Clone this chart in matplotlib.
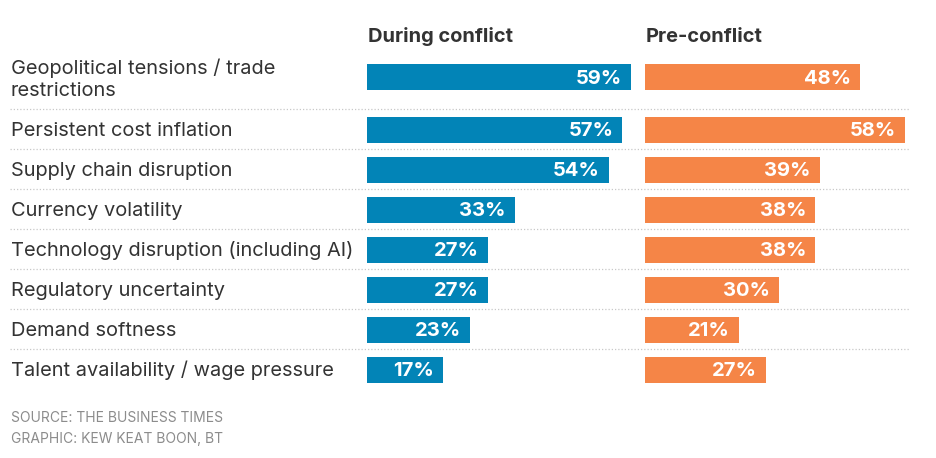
import matplotlib
matplotlib.use("Agg")
import matplotlib.pyplot as plt

# данные графика
categories = [
    "Geopolitical tensions / trade\nrestrictions",
    "Persistent cost inflation",
    "Supply chain disruption",
    "Currency volatility",
    "Technology disruption (including AI)",
    "Regulatory uncertainty",
    "Demand softness",
    "Talent availability / wage pressure",
]
during = [59, 57, 54, 33, 27, 27, 23, 17]
pre = [48, 58, 39, 38, 38, 30, 21, 27]
headers = ["During conflict", "Pre-conflict"]
source_lines = ["SOURCE: THE BUSINESS TIMES", "GRAPHIC: KEW KEAT BOON, BT"]

W, H = 936, 458
FONT = ["Inter", "DejaVu Sans"]
col_blue = "#0284b7"
col_orange = "#f58547"
col_text = "#333333"
px_per_pct = 4.48

# центры строк в пикселях (первая строка выше - две строки подписи)
row_y = [77] + [129.5 + 40 * i for i in range(len(categories) - 1)]

fig = plt.figure(figsize=(W / 100, H / 100), dpi=100)
fig.patch.set_facecolor("white")

ax_bg = fig.add_axes([0, 0, 1, 1])
ax_bg.set_xlim(0, W)
ax_bg.set_ylim(H, 0)
ax_bg.axis("off")

# разделительные пунктирные линии
for i in range(len(categories) - 1):
    ax_bg.plot([10, 909], [109 + 40 * i] * 2, color="#c8c8c8", lw=0.9,
               linestyle=(0, (1, 1.6)), zorder=1)

# подписи категорий
for i, cat in enumerate(categories):
    lines = cat.split("\n")
    if len(lines) > 1:
        base = [row_y[i] - 3, row_y[i] + 19]
    else:
        base = [row_y[i] + 7]
    for ln, yb in zip(lines, base):
        ax_bg.text(11, yb, ln, ha="left", va="baseline", fontsize=14.4,
                   color=col_text, family=FONT)

# подписи источника
ax_bg.text(11, 422, source_lines[0], ha="left", va="baseline", fontsize=10.0,
           color="#8c8c8c", family=FONT)
ax_bg.text(11, 443, source_lines[1], ha="left", va="baseline", fontsize=10.0,
           color="#8c8c8c", family=FONT)

# столбцы
cols = [(367, 909 - 645 + 5, during, col_blue), (645, 909 - 645, pre, col_orange)]
for k, (x0, wpx, vals, col) in enumerate(cols):
    ax = fig.add_axes([x0 / W, 0, wpx / W, 1])
    ax.set_xlim(0, wpx / px_per_pct)
    ax.set_ylim(H, 0)
    ax.axis("off")
    ax.patch.set_alpha(0)
    ax.barh(row_y, vals, height=26, color=col, zorder=2)
    for y, v in zip(row_y, vals):
        ax.text(v - 9 / px_per_pct, y + 6.5, f"{v}%", ha="right", va="baseline",
                fontsize=14.5, fontweight="bold", color="white", family=FONT, zorder=3)
    ax_bg.text(x0 + 1, 42.5, headers[k], ha="left", va="baseline", fontsize=14.4,
               fontweight="bold", color=col_text, family=FONT)

fig.savefig("out.png", dpi=100, facecolor="white")
